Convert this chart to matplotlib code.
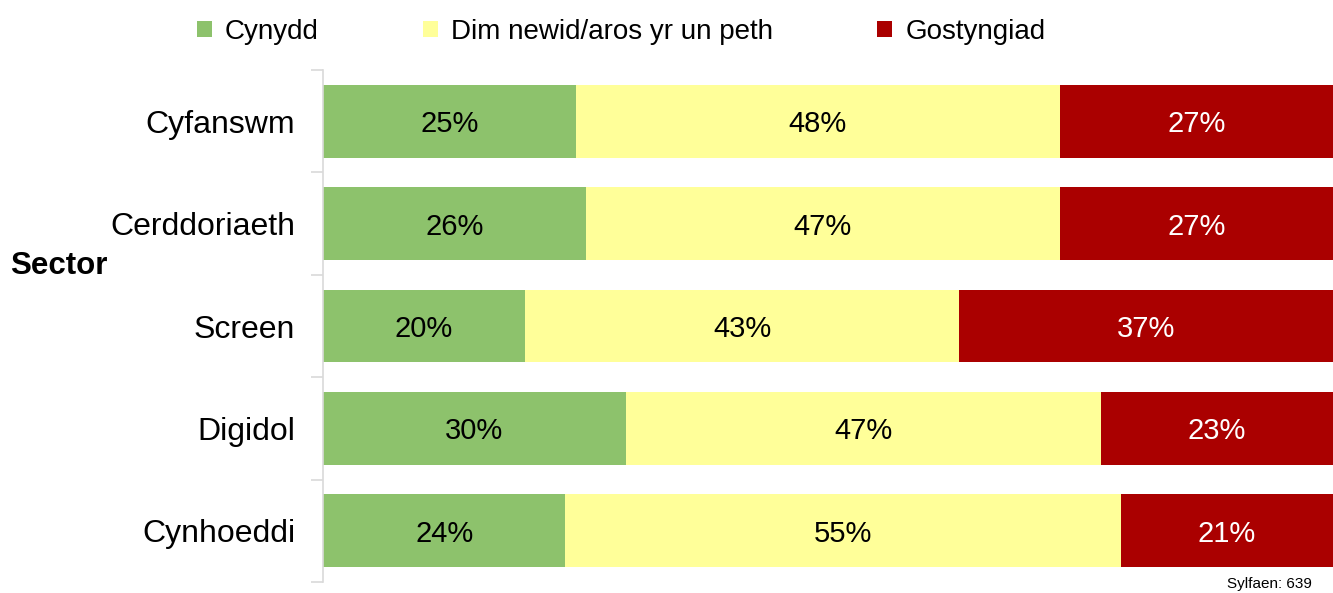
import numpy as np
import matplotlib.pyplot as plt
from matplotlib.patches import Patch

plt.rcParams['font.family'] = ['Liberation Sans', 'DejaVu Sans']

sectors = ['Cyfanswm', 'Cerddoriaeth', 'Screen', 'Digidol', 'Cynhoeddi']
increase = [25, 26, 20, 30, 24]
no_change = [48, 47, 43, 47, 55]
decrease = [27, 27, 37, 23, 21]
series_names = ['Cynydd', 'Dim newid/aros yr un peth', 'Gostyngiad']
colors = ['#8DC26C', '#FFFF99', '#AA0000']
text_colors = ['black', 'black', 'white']

fig = plt.figure(figsize=(13.33, 5.93), dpi=100)
ax = fig.add_axes([323 / 1333, 1 - 582 / 593, 1 - 323 / 1333, (582 - 70) / 593])

y = np.arange(len(sectors))
left = np.zeros(len(sectors))
for vals, col, tcol in zip([increase, no_change, decrease], colors, text_colors):
    vals = np.array(vals)
    ax.barh(y, vals, left=left, height=0.71, color=col, edgecolor='none')
    for yi, l, v in zip(y, left, vals):
        ax.text(l + v / 2, yi, f'{v}%', ha='center', va='center_baseline',
                fontsize=21, color=tcol)
    left += vals

ax.set_xlim(0, 100)
ax.set_ylim(len(sectors) - 0.5, -0.5)
ax.set_xticks([])
ax.set_yticks(y)
ax.set_yticklabels(sectors, fontsize=23)
ax.set_yticks(np.arange(len(sectors) + 1) - 0.5, minor=True)
ax.tick_params(axis='y', which='major', length=0, pad=20)
ax.tick_params(axis='y', which='minor', length=9, width=1.2, color='#D9D9D9')
for s in ['top', 'right', 'bottom']:
    ax.spines[s].set_visible(False)
ax.spines['left'].set_color('#D9D9D9')
ax.spines['left'].set_linewidth(1.2)

fig.text(10 / 1333, 1 - 266 / 593, 'Sector', fontsize=22.5, fontweight='bold',
         ha='left', va='center')

handles = [Patch(facecolor=c, edgecolor='none') for c in colors]
fig.legend(handles, series_names, loc='center left',
           bbox_to_anchor=(172 / 1333, 1 - 32 / 593), ncol=3, frameon=False,
           fontsize=20, handlelength=0.54, handleheight=0.54,
           handletextpad=0.47, columnspacing=3.75)

fig.text(1269 / 1333, 1 - 584 / 593, 'Sylfaen: 639', fontsize=11,
         ha='center', va='center')

fig.savefig('out.png', dpi=100)
